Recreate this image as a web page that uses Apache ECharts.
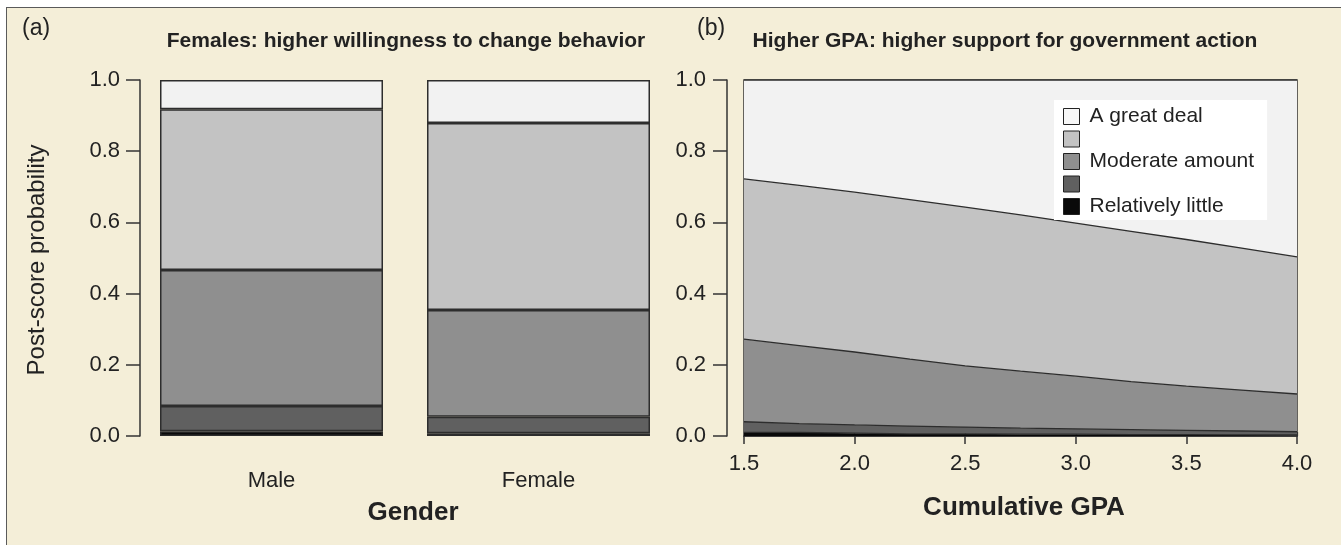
<!DOCTYPE html>
<html>
<head>
<meta charset="utf-8">
<script src="https://cdn.jsdelivr.net/npm/echarts@6/dist/echarts.min.js"></script>
<style>
  html, body { margin: 0; padding: 0; background: #fff; }
  #frame {
    position: absolute; left: 6px; top: 7px; width: 1400px; height: 600px;
    background: #f4eed8; border: 1.5px solid #5a5a5a;
  }
  #chart { position: absolute; left: 0; top: 0; width: 1341px; height: 545px; }
</style>
</head>
<body>
<div id="frame"></div>
<div id="chart"></div>
<script>
// panel (a): predicted probabilities by gender, one array per response level
const genders = ['Male', 'Female']
const barLittle = [0.013, 0.008]
const barLow = [0.071, 0.046]
const barModerate = [0.382, 0.300]
const barHigh = [0.452, 0.525]
const barGreat = [0.082, 0.121]

// panel (b): predicted probabilities along cumulative GPA
const gpa = [1.5, 1.75, 2.0, 2.25, 2.5, 2.75, 3.0, 3.25, 3.5, 3.75, 4.0]
const gpaLittle = [0.010, 0.010, 0.008, 0.006, 0.006, 0.005, 0.005, 0.004, 0.004, 0.003, 0.003]
const gpaLow = [0.030, 0.025, 0.023, 0.022, 0.019, 0.017, 0.015, 0.014, 0.012, 0.011, 0.009]
const gpaModerate = [0.232, 0.219, 0.205, 0.188, 0.172, 0.160, 0.148, 0.135, 0.124, 0.115, 0.106]
const gpaHigh = [0.450, 0.450, 0.449, 0.448, 0.446, 0.439, 0.430, 0.422, 0.412, 0.399, 0.385]
const gpaGreat = [0.278, 0.296, 0.315, 0.336, 0.357, 0.379, 0.402, 0.425, 0.448, 0.472, 0.497]

// legend labels, top to bottom (two levels are unlabeled in the figure)
const legendLabels = ['A great deal', '', 'Moderate amount', '', 'Relatively little']
const levelKeys = ['great', 'high', 'moderate', 'low', 'little']
const fills = {
  little: '#0a0a0a',
  low: '#606060',
  moderate: '#8f8f8f',
  high: '#c3c3c3',
  great: '#f2f2f2'
}

const FONT = '"Liberation Sans", Arial, sans-serif'
const INK = '#222'
const EDGE = '#2d2d2d'

const chart = echarts.init(document.getElementById('chart'), null, { renderer: 'canvas' })

function barSeries(key, values) {
  return {
    name: 'bar-' + key,
    type: 'bar',
    stack: 'gender',
    xAxisIndex: 0,
    yAxisIndex: 0,
    barWidth: 223,
    data: values,
    itemStyle: { color: fills[key], borderColor: EDGE, borderWidth: 1.5 }
  }
}

function areaSeries(key, values) {
  return {
    name: key,
    type: 'line',
    stack: 'gpa',
    xAxisIndex: 1,
    yAxisIndex: 1,
    symbol: 'none',
    data: values,
    lineStyle: { color: EDGE, width: 1.3 },
    areaStyle: { color: fills[key], opacity: 1 },
    itemStyle: { color: fills[key] }
  }
}

const probAxis = {
  type: 'value',
  min: 0,
  max: 1,
  interval: 0.2,
  splitLine: { show: false },
  axisLine: { show: true, lineStyle: { color: '#333', width: 1.5 } },
  axisTick: { show: true, length: 14, lineStyle: { color: '#333', width: 1.5 } },
  axisLabel: {
    fontFamily: FONT, fontSize: 22, color: INK,
    formatter: v => v.toFixed(1)
  }
}

const gpaLabels = gpa.map(g => g.toFixed(2))

const option = {
  animation: false,
  textStyle: { fontFamily: FONT },
  grid: [
    { left: 138, right: 669, top: 80, bottom: 109 },
    { left: 744, right: 44, top: 80, bottom: 109, show: true, borderColor: '#333', borderWidth: 1.5, backgroundColor: 'transparent' }
  ],
  xAxis: [
    {
      gridIndex: 0,
      type: 'category',
      data: genders,
      axisLine: { show: false },
      axisTick: { show: false },
      axisLabel: { margin: 34, fontFamily: FONT, fontSize: 22, color: INK }
    },
    {
      gridIndex: 1,
      type: 'category',
      data: gpaLabels,
      boundaryGap: false,
      splitLine: { show: false },
      axisLine: { show: true, onZero: false, lineStyle: { color: '#333', width: 1.5 } },
      axisTick: { show: true, interval: 1, length: 8, lineStyle: { color: '#333', width: 1.5 } },
      axisLabel: {
        interval: 1, margin: 17, fontFamily: FONT, fontSize: 22, color: INK,
        formatter: v => parseFloat(v).toFixed(1)
      }
    },
    {
      gridIndex: 1,
      type: 'category',
      data: gpaLabels,
      boundaryGap: false,
      position: 'top',
      splitLine: { show: false },
      axisLine: { show: false },
      axisTick: { show: true, interval: 1, length: 4, lineStyle: { color: '#333', width: 1.2 } },
      axisLabel: { show: false }
    }
  ],
  yAxis: [
    Object.assign({}, probAxis, { gridIndex: 0, offset: -2, axisLabel: Object.assign({}, probAxis.axisLabel, { margin: 20 }) }),
    Object.assign({}, probAxis, { gridIndex: 1, offset: 17, axisLabel: Object.assign({}, probAxis.axisLabel, { margin: 21 }) })
  ],
  legend: {
    orient: 'vertical',
    left: 1054,
    top: 100,
    backgroundColor: '#fff',
    padding: [6, 13, 3, 9],
    itemWidth: 16,
    itemHeight: 16,
    itemGap: 1.5,
    icon: 'rect',
    selectedMode: false,
    data: levelKeys.map(k => ({
      name: k,
      itemStyle: { color: fills[k] === '#f2f2f2' ? '#f7f7f7' : fills[k], borderColor: '#222', borderWidth: 1 }
    })),
    formatter: name => legendLabels[levelKeys.indexOf(name)] || ' ',
    textStyle: { fontFamily: FONT, fontSize: 21, lineHeight: 21, color: INK, padding: [0, 0, 0, 5] }
  },
  graphic: [
    { type: 'text', left: 22, top: 17, style: { text: '(a)', font: '23px ' + FONT, fill: INK } },
    { type: 'text', left: 697, top: 17, style: { text: '(b)', font: '23px ' + FONT, fill: INK } },
    { type: 'text', x: 406, y: 41, style: { text: 'Females: higher willingness to change behavior', font: 'bold 21px ' + FONT, fill: INK, align: 'center', verticalAlign: 'middle' } },
    { type: 'text', x: 1005, y: 41, style: { text: 'Higher GPA: higher support for government action', font: 'bold 21px ' + FONT, fill: INK, align: 'center', verticalAlign: 'middle' } },
    { type: 'text', x: 37, y: 260, rotation: Math.PI / 2, style: { text: 'Post-score probability', font: '24px ' + FONT, fill: INK, align: 'center', verticalAlign: 'middle' } },
    { type: 'text', x: 413, y: 513, style: { text: 'Gender', font: 'bold 26px ' + FONT, fill: INK, align: 'center', verticalAlign: 'middle' } },
    { type: 'text', x: 1024, y: 508, style: { text: 'Cumulative GPA', font: 'bold 26px ' + FONT, fill: INK, align: 'center', verticalAlign: 'middle' } }
  ],
  series: [
    barSeries('little', barLittle),
    barSeries('low', barLow),
    barSeries('moderate', barModerate),
    barSeries('high', barHigh),
    barSeries('great', barGreat),
    areaSeries('little', gpaLittle),
    areaSeries('low', gpaLow),
    areaSeries('moderate', gpaModerate),
    areaSeries('high', gpaHigh),
    areaSeries('great', gpaGreat)
  ]
}

chart.setOption(option)
</script>
</body>
</html>
